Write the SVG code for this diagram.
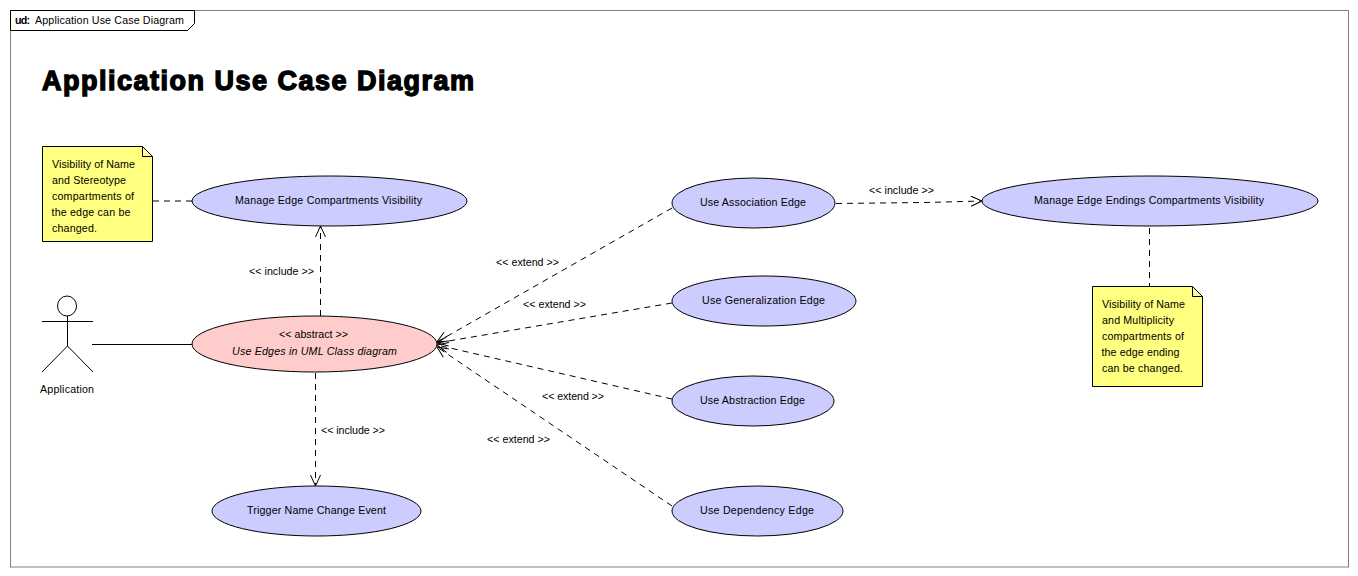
<svg xmlns="http://www.w3.org/2000/svg" width="1358" height="576" viewBox="0 0 1358 576">
<style>
text{font-family:"Liberation Sans",Arial,sans-serif;font-size:10.67px;fill:#000}
.uc{stroke:#000;stroke-width:1;fill:#ccf}
.base{stroke:#000;stroke-width:1;fill:#fcc}
.note{stroke:#000;stroke-width:1;fill:#ffff80}
.fold{stroke:#000;stroke-width:1;fill:#ffffb0}
.line{stroke:#000;stroke-width:1;fill:none}
.dash{stroke:#000;stroke-width:1;fill:none;stroke-dasharray:6 5}
.arr{marker-end:url(#open)}
</style>
<defs>
<marker id="open" markerUnits="userSpaceOnUse" markerWidth="14" markerHeight="14" refX="12" refY="7" orient="auto">
<path d="M1 2L12 7L1 12" fill="none" stroke="#000" stroke-width="1"/>
</marker>
</defs>
<rect width="1358" height="576" fill="#fff"/>
<g id="frame">
<rect x="10.5" y="10.5" width="1338" height="556.5" fill="#fff" stroke="#808080"/>
<path d="M10.5 10.5H194.5V23.5L187.5 30.5H10.5Z" fill="#fff" stroke="#000"/>
<text x="15" y="24" font-weight="bold" textLength="15">ud:</text>
<text x="35" y="24" textLength="149">Application Use Case Diagram</text>
<text x="42" y="90" style="font-size:27px;font-weight:bold;stroke:#000;stroke-width:1.4" textLength="432">Application Use Case Diagram</text>
</g>
<g id="connectors">
<path class="dash" d="M153 201H192"/>
<path class="dash arr" d="M320.5 316L320.5 226"/>
<path class="line" d="M92 344.5H192"/>
<path class="dash arr" d="M315.5 373V486"/>
<path class="dash arr" d="M672 208L437 342"/>
<path class="dash arr" d="M672 303L437 343"/>
<path class="dash arr" d="M672 399L437 345"/>
<path class="dash arr" d="M672 506L437 347"/>
<path class="dash arr" d="M836 203.5L925 202.5L982 201"/>
<path class="dash" d="M1149.5 228V286"/>
<text x="249" y="275" textLength="65">&lt;&lt; include &gt;&gt;</text>
<text x="321" y="434" textLength="64">&lt;&lt; include &gt;&gt;</text>
<text x="869" y="194" textLength="65">&lt;&lt; include &gt;&gt;</text>
<text x="496" y="266" textLength="63">&lt;&lt; extend &gt;&gt;</text>
<text x="523" y="308" textLength="63">&lt;&lt; extend &gt;&gt;</text>
<text x="542" y="400" textLength="62">&lt;&lt; extend &gt;&gt;</text>
<text x="487" y="443" textLength="63">&lt;&lt; extend &gt;&gt;</text>
</g>
<g id="actor-application">
<ellipse class="line" cx="67" cy="306" rx="9.5" ry="10"/>
<path class="line" d="M42 321.5H93M67.5 316V346M67.5 346L42 372M67.5 346L93 372"/>
<text x="40" y="393" textLength="54">Application</text>
</g>
<g id="note-name-stereotype">
<path class="note" d="M42.5 146.5H142.5L152.5 156.5V241.5H42.5Z"/>
<path class="fold" d="M142.5 146.5V156.5H152.5Z"/>
<text x="52" y="168" textLength="83">Visibility of Name</text>
<text x="52" y="184" textLength="74">and Stereotype</text>
<text x="52" y="200" textLength="82">compartments of</text>
<text x="51.5" y="216" textLength="79">the edge can be</text>
<text x="52" y="232" textLength="45">changed.</text>
</g>
<g id="note-name-multiplicity">
<path class="note" d="M1092.5 286.5H1192.5L1202.5 296.5V386.5H1092.5Z"/>
<path class="fold" d="M1192.5 286.5V296.5H1202.5Z"/>
<text x="1102" y="308" textLength="83">Visibility of Name</text>
<text x="1102" y="324" textLength="72">and Multiplicity</text>
<text x="1102" y="340" textLength="82">compartments of</text>
<text x="1101.5" y="356" textLength="78">the edge ending</text>
<text x="1102" y="372" textLength="81">can be changed.</text>
</g>
<g id="uc-manage-edge-compartments">
<ellipse class="uc" cx="329.5" cy="201" rx="137.5" ry="25"/>
<text x="235" y="204" textLength="187">Manage Edge Compartments Visibility</text>
</g>
<g id="uc-use-edges">
<ellipse class="base" cx="314.5" cy="344" rx="122.5" ry="28"/>
<text x="279" y="338" textLength="69">&lt;&lt; abstract &gt;&gt;</text>
<text x="232" y="355" font-style="italic" textLength="165">Use Edges in UML Class diagram</text>
</g>
<g id="uc-trigger-name-change">
<ellipse class="uc" cx="316.5" cy="511" rx="104.5" ry="25"/>
<text x="247" y="514" textLength="139">Trigger Name Change Event</text>
</g>
<g id="uc-association">
<ellipse class="uc" cx="753.5" cy="203" rx="81.5" ry="25"/>
<text x="700" y="206" textLength="106">Use Association Edge</text>
</g>
<g id="uc-generalization">
<ellipse class="uc" cx="764" cy="301" rx="92" ry="25"/>
<text x="702" y="304" textLength="123">Use Generalization Edge</text>
</g>
<g id="uc-abstraction">
<ellipse class="uc" cx="753" cy="401" rx="81" ry="25"/>
<text x="700" y="404" textLength="105">Use Abstraction Edge</text>
</g>
<g id="uc-dependency">
<ellipse class="uc" cx="757.5" cy="511" rx="85.5" ry="25"/>
<text x="700" y="514" textLength="114">Use Dependency Edge</text>
</g>
<g id="uc-manage-edge-endings">
<ellipse class="uc" cx="1150" cy="201" rx="168" ry="25"/>
<text x="1034" y="204" textLength="230">Manage Edge Endings Compartments Visibility</text>
</g>
</svg>
